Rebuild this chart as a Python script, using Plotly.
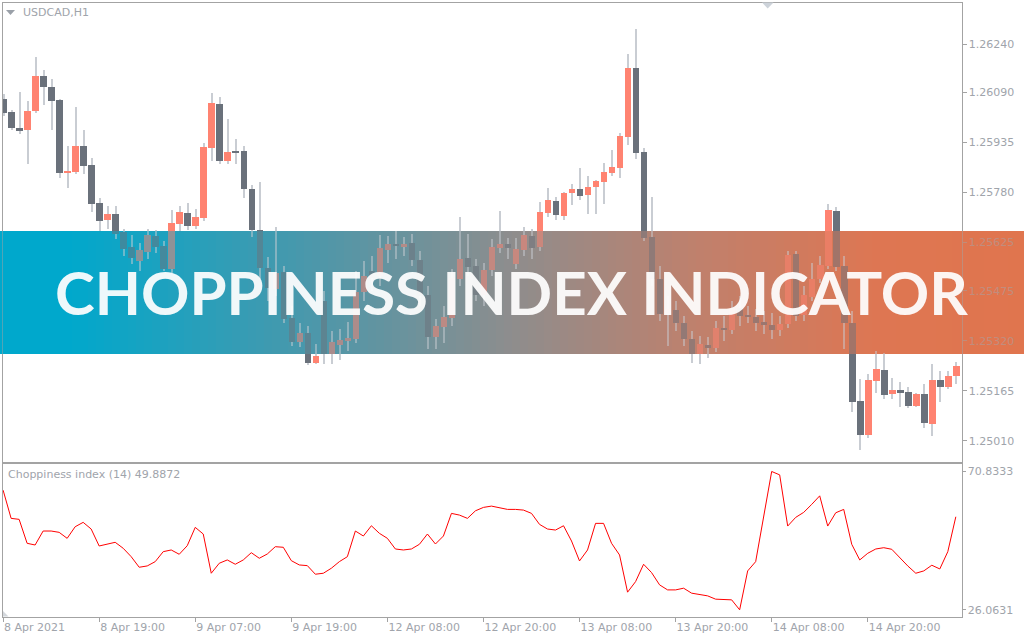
import numpy as np
import plotly.graph_objects as go

# ---------------- data ----------------
time_labels = ["8 Apr 2021", "8 Apr 19:00", "9 Apr 07:00", "9 Apr 19:00", "12 Apr 08:00",
               "12 Apr 20:00", "13 Apr 08:00", "13 Apr 20:00", "14 Apr 08:00", "14 Apr 20:00"]
label_bars = [0, 12, 24, 36, 48, 60, 72, 84, 96, 108]

open_ = [1.26073, 1.26032, 1.25983, 1.25976, 1.26035, 1.26144, 1.26110, 1.26069, 1.25843, 1.25846,
         1.25927, 1.25868, 1.25750, 1.25698, 1.25716, 1.25660, 1.25614, 1.25570, 1.25598, 1.25648,
         1.25617, 1.25546, 1.25685, 1.25719, 1.25679, 1.25704, 1.25921, 1.26057, 1.25880, 1.25908,
         1.25911, 1.25794, 1.25667, 1.25549, 1.25484, 1.25536, 1.25394, 1.25319, 1.25347, 1.25254,
         1.25446, 1.25282, 1.25310, 1.25322, 1.25329, 1.25474, 1.25539, 1.25524, 1.25605, 1.25620,
         1.25614, 1.25626, 1.25573, 1.25465, 1.25335, 1.25366, 1.25394, 1.25515, 1.25580, 1.25555,
         1.25465, 1.25542, 1.25611, 1.25623, 1.25561, 1.25605, 1.25648, 1.25614, 1.25719, 1.25756,
         1.25710, 1.25781, 1.25794, 1.25775, 1.25800, 1.25815, 1.25843, 1.25859, 1.25955, 1.26169,
         1.25908, 1.25645, 1.25515, 1.25406, 1.25418, 1.25378, 1.25329, 1.25282, 1.25310, 1.25301,
         1.25363, 1.25356, 1.25425, 1.25400, 1.25397, 1.25381, 1.25372, 1.25356, 1.25375, 1.25592,
         1.25403, 1.25459, 1.25515, 1.25555, 1.25725, 1.25555, 1.25378, 1.25136, 1.25031, 1.25198,
         1.25233, 1.25158, 1.25171, 1.25164, 1.25121, 1.25158, 1.25065, 1.25202, 1.25180, 1.25214]

high = [1.26088, 1.26038, 1.26094, 1.26066, 1.26203, 1.26162, 1.26135, 1.26073, 1.25927, 1.26048,
        1.25976, 1.25890, 1.25766, 1.25741, 1.25741, 1.25670, 1.25651, 1.25626, 1.25670, 1.25667,
        1.25632, 1.25729, 1.25741, 1.25750, 1.25732, 1.25936, 1.26091, 1.26079, 1.26011, 1.25949,
        1.25927, 1.25806, 1.25815, 1.25583, 1.25676, 1.25555, 1.25431, 1.25378, 1.25369, 1.25313,
        1.25477, 1.25353, 1.25360, 1.25381, 1.25539, 1.25570, 1.25586, 1.25651, 1.25648, 1.25663,
        1.25645, 1.25654, 1.25601, 1.25493, 1.25391, 1.25431, 1.25546, 1.25707, 1.25654, 1.25577,
        1.25564, 1.25639, 1.25725, 1.25642, 1.25642, 1.25676, 1.25670, 1.25753, 1.25797, 1.25769,
        1.25784, 1.25809, 1.25859, 1.25834, 1.25822, 1.25874, 1.25915, 1.25967, 1.26212, 1.26290,
        1.25921, 1.25769, 1.25555, 1.25462, 1.25446, 1.25400, 1.25353, 1.25338, 1.25335, 1.25384,
        1.25400, 1.25446, 1.25462, 1.25431, 1.25422, 1.25415, 1.25409, 1.25400, 1.25601, 1.25601,
        1.25493, 1.25564, 1.25586, 1.25747, 1.25738, 1.25586, 1.25415, 1.25205, 1.25220, 1.25291,
        1.25285, 1.25208, 1.25195, 1.25180, 1.25161, 1.25189, 1.25251, 1.25229, 1.25229, 1.25257]

low = [1.26020, 1.25976, 1.25964, 1.25871, 1.26029, 1.26054, 1.25976, 1.25828, 1.25797, 1.25840,
       1.25840, 1.25722, 1.25663, 1.25670, 1.25639, 1.25586, 1.25561, 1.25539, 1.25577, 1.25595,
       1.25539, 1.25533, 1.25663, 1.25667, 1.25670, 1.25694, 1.25880, 1.25871, 1.25871, 1.25871,
       1.25766, 1.25645, 1.25515, 1.25446, 1.25462, 1.25378, 1.25307, 1.25304, 1.25248, 1.25251,
       1.25251, 1.25251, 1.25264, 1.25291, 1.25316, 1.25446, 1.25477, 1.25493, 1.25564, 1.25577,
       1.25586, 1.25555, 1.25431, 1.25298, 1.25298, 1.25316, 1.25369, 1.25493, 1.25524, 1.25446,
       1.25431, 1.25524, 1.25595, 1.25577, 1.25546, 1.25586, 1.25577, 1.25601, 1.25707, 1.25698,
       1.25698, 1.25744, 1.25760, 1.25716, 1.25716, 1.25747, 1.25834, 1.25828, 1.25930, 1.25887,
       1.25632, 1.25493, 1.25384, 1.25307, 1.25353, 1.25307, 1.25254, 1.25251, 1.25270, 1.25288,
       1.25322, 1.25344, 1.25369, 1.25378, 1.25353, 1.25344, 1.25329, 1.25338, 1.25363, 1.25384,
       1.25384, 1.25446, 1.25502, 1.25546, 1.25539, 1.25298, 1.25102, 1.24985, 1.25022, 1.25161,
       1.25143, 1.25143, 1.25118, 1.25115, 1.25118, 1.25053, 1.25028, 1.25133, 1.25174, 1.25189]

close = [1.26029, 1.25983, 1.25973, 1.26035, 1.26144, 1.26110, 1.26066, 1.25843, 1.25849, 1.25927,
         1.25865, 1.25747, 1.25694, 1.25716, 1.25654, 1.25608, 1.25580, 1.25605, 1.25651, 1.25614,
         1.25546, 1.25688, 1.25722, 1.25679, 1.25707, 1.25924, 1.26060, 1.25880, 1.25908, 1.25905,
         1.25794, 1.25667, 1.25549, 1.25487, 1.25533, 1.25391, 1.25319, 1.25347, 1.25254, 1.25276,
         1.25282, 1.25319, 1.25326, 1.25332, 1.25474, 1.25524, 1.25518, 1.25611, 1.25623, 1.25617,
         1.25623, 1.25573, 1.25462, 1.25335, 1.25369, 1.25397, 1.25518, 1.25577, 1.25552, 1.25465,
         1.25542, 1.25614, 1.25623, 1.25611, 1.25608, 1.25651, 1.25611, 1.25722, 1.25760, 1.25713,
         1.25781, 1.25794, 1.25772, 1.25800, 1.25818, 1.25846, 1.25862, 1.25958, 1.26169, 1.25905,
         1.25642, 1.25515, 1.25406, 1.25422, 1.25378, 1.25329, 1.25282, 1.25313, 1.25301, 1.25363,
         1.25356, 1.25425, 1.25400, 1.25397, 1.25378, 1.25372, 1.25356, 1.25375, 1.25589, 1.25400,
         1.25465, 1.25515, 1.25558, 1.25729, 1.25552, 1.25378, 1.25133, 1.25031, 1.25202, 1.25236,
         1.25155, 1.25171, 1.25161, 1.25121, 1.25158, 1.25068, 1.25202, 1.25180, 1.25214, 1.25245]

chop = [64.79, 55.66, 55.34, 47.59, 47.04, 51.56, 51.56, 51.14, 49.20, 52.95,
        54.37, 52.21, 46.72, 47.36, 47.91, 45.98, 43.26, 39.84, 40.26, 41.65,
        44.88, 45.43, 44.04, 46.81, 52.75, 50.59, 37.90, 41.13, 42.20, 40.81,
        42.20, 44.55, 42.75, 44.13, 46.49, 46.30, 41.97, 40.58, 40.36, 37.58,
        37.90, 39.52, 41.65, 43.26, 51.56, 49.95, 53.27, 50.82, 49.20, 45.75,
        45.43, 45.75, 47.27, 50.59, 47.36, 49.95, 57.27, 56.72, 55.66, 58.11,
        59.21, 59.63, 59.21, 58.56, 58.56, 58.34, 57.27, 53.72, 52.21, 51.88,
        53.27, 48.33, 41.88, 45.43, 54.04, 54.04, 47.59, 43.81, 31.77, 35.19,
        40.81, 38.10, 34.13, 32.51, 32.51, 33.06, 31.45, 30.90, 30.58, 29.51,
        29.29, 29.29, 26.0631, 38.65, 41.65, 56.72, 70.8333, 69.73, 53.17, 55.98,
        57.60, 60.18, 62.95, 53.17, 57.47, 58.56, 47.27, 42.20, 44.36, 45.75,
        46.17, 45.65, 42.94, 40.26, 37.90, 38.65, 40.49, 39.29, 44.88, 56.18]

price_ticks = [1.26240, 1.26090, 1.25935, 1.25780, 1.25625, 1.25475, 1.25320, 1.25165, 1.25010]
price_tick_text = ["1.26240", "1.26090", "1.25935", "1.25780", "1.25625", "1.25475", "1.25320", "1.25165", "1.25010"]
chop_ticks = [70.8333, 26.0631]
chop_tick_text = ["70.8333", "26.0631"]

symbol_label = "USDCAD,H1"
indicator_label = "Choppiness index (14) 49.8872"
banner_title = "CHOPPINESS INDEX INDICATOR"

# ---------------- styling ----------------
W, H = 1024, 640
BULL = "#ff8371"
BEAR = "#6a717b"
WICK = "#c9cdd3"
BORDER = "#a3a3a3"
TXT = "#a0a4ab"
FONT = "DejaVu Sans"


def px(x):
    return x / W


def py(y):
    return 1 - y / H


idx = np.arange(len(open_))
o = np.array(open_)
c = np.array(close)
h = np.array(high)
l = np.array(low)
body_col = np.where(c > o, BULL, BEAR)

fig = go.Figure()
fig.add_trace(go.Bar(x=idx, y=h - l, base=l, width=0.13,
                     marker=dict(color=WICK, line=dict(width=0)),
                     xaxis="x", yaxis="y", hoverinfo="skip"))
fig.add_trace(go.Bar(x=idx, y=np.abs(c - o), base=np.minimum(o, c), width=0.82,
                     marker=dict(color=body_col, line=dict(width=0)),
                     xaxis="x", yaxis="y", hoverinfo="skip"))
fig.add_trace(go.Scatter(x=idx, y=chop, mode="lines",
                         line=dict(color="#ff0000", width=1),
                         xaxis="x2", yaxis="y2", hoverinfo="skip"))

xr = [-0.075, 119.71]
xdom = [px(2.5), px(961.5)]
common_ax = dict(showline=True, mirror=True, linecolor=BORDER, linewidth=1,
                 showgrid=False, zeroline=False)

fig.update_layout(
    width=W, height=H, margin=dict(l=0, r=0, t=0, b=0),
    paper_bgcolor="white", plot_bgcolor="rgba(0,0,0,0)",
    showlegend=False, barmode="overlay", bargap=0,
    xaxis=dict(domain=xdom, range=xr, showticklabels=False, ticks="", anchor="y", **common_ax),
    yaxis=dict(domain=[py(461.5), py(2.5)], range=[1.249464, 1.263693], side="right",
               anchor="x", tickmode="array", tickvals=price_ticks, ticktext=price_tick_text,
               ticks="outside", ticklen=4, tickcolor=BORDER,
               tickfont=dict(family=FONT, size=11, color=TXT), **common_ax),
    xaxis2=dict(domain=xdom, range=xr, anchor="y2", tickmode="array",
                tickvals=label_bars, ticktext=time_labels, ticks="outside", ticklen=4,
                tickcolor=BORDER, ticklabelposition="outside right",
                tickfont=dict(family=FONT, size=11, color=TXT), **common_ax),
    yaxis2=dict(domain=[py(616.5), py(463.5)], range=[23.90, 73.416], side="right",
                anchor="x2", tickmode="array", tickvals=chop_ticks, ticktext=chop_tick_text,
                ticks="outside", ticklen=3, tickcolor=BORDER,
                tickfont=dict(family=FONT, size=11, color=TXT), **common_ax),
)

# ---------------- banner (gradient strips) ----------------
stops = [(0, (0, 168, 204)), (70, (0, 168, 204)), (300, (72, 152, 172)),
         (512, (142, 141, 141)), (700, (192, 128, 108)), (880, (222, 118, 82)),
         (1024, (224, 117, 78))]


def grad(x):
    for (x0, c0), (x1, c1) in zip(stops[:-1], stops[1:]):
        if x0 <= x <= x1:
            t = (x - x0) / (x1 - x0) if x1 > x0 else 0
            return tuple(int(round(a + (b - a) * t)) for a, b in zip(c0, c1))
    return stops[-1][1]


shapes = []
STEP = 8
BT, BB = 231, 354
for i in range(0, W, STEP):
    r, g, b = grad(i + STEP / 2)
    shapes.append(dict(type="rect", xref="paper", yref="paper", layer="below",
                       x0=px(i), x1=px(i + STEP), y0=py(BB), y1=py(BT),
                       fillcolor=f"rgb({r},{g},{b})", line=dict(width=0)))
    shapes.append(dict(type="rect", xref="paper", yref="paper", layer="above",
                       x0=px(i), x1=px(i + STEP), y0=py(BB), y1=py(BT),
                       fillcolor=f"rgba({r},{g},{b},0.5)", line=dict(width=0)))


def tri(pts, color):
    path = "M " + " L ".join(f"{px(x):.5f},{py(y):.5f}" for x, y in pts) + " Z"
    return dict(type="path", xref="paper", yref="paper", path=path, layer="above",
                fillcolor=color, line=dict(width=0))


shapes.append(tri([(6, 10), (15, 10), (10.5, 15)], "#9aa0a8"))
shapes.append(tri([(762, 2.5), (773.5, 2.5), (767.7, 8.5)], "#cdd3da"))
shapes.append(tri([(3, 611), (3, 616.5), (8.5, 616.5)], "#d3d7dc"))
fig.update_layout(shapes=shapes)

fig.update_layout(annotations=[
    dict(text=symbol_label, xref="paper", yref="paper", x=px(21), y=py(13),
         xanchor="left", yanchor="middle", showarrow=False,
         font=dict(family=FONT, size=11, color=TXT)),
    dict(text=indicator_label, xref="paper", yref="paper", x=px(6), y=py(474),
         xanchor="left", yanchor="middle", showarrow=False,
         font=dict(family=FONT, size=11, color=TXT)),
    dict(text=banner_title, xref="paper", yref="paper", x=px(511.5), y=py(292),
         xanchor="center", yanchor="middle", showarrow=False, opacity=0.93,
         font=dict(family="Lato", size=60, color="white", weight=700)),
])

fig.write_html("out.html", config={"displayModeBar": False},
               post_script="document.body.style.margin='0';document.body.style.overflow='hidden';")
